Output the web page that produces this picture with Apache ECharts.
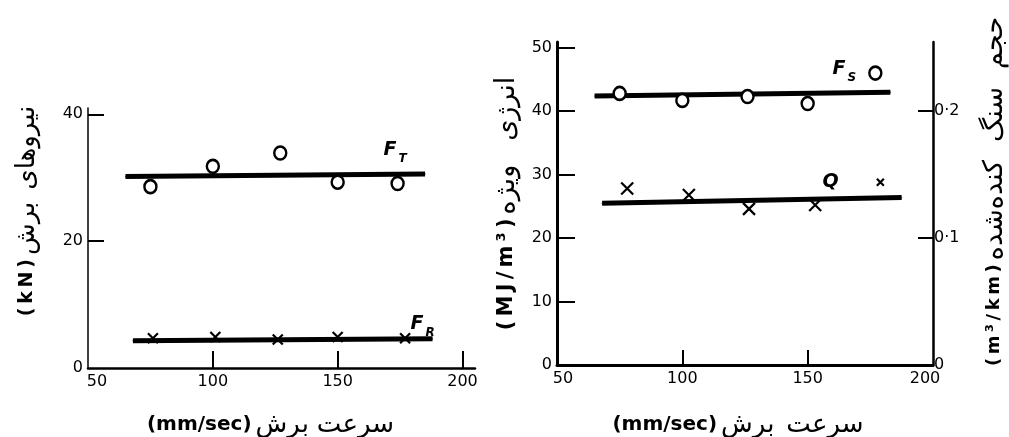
<!DOCTYPE html>
<html>
<head>
<meta charset="utf-8">
<script src="https://cdn.jsdelivr.net/npm/echarts@6/dist/echarts.min.js"></script>
<style>
  html, body { margin: 0; padding: 0; background: #fff; }
  #chart { width: 1009px; height: 437px; }
</style>
</head>
<body>
<div id="chart"></div>
<script>
// ---- Cutting forces vs cutting speed ----
const ftSpeed = [75, 100, 127, 150, 174];          // mm/sec
const ftForce = [28.6, 31.8, 33.9, 29.3, 29.1];    // kN
const frSpeed = [76, 101, 126, 150, 177];
const frForce = [4.7, 4.9, 4.5, 4.9, 4.7];
const ftFitSpeed = [65, 185];
const ftFitForce = [30.2, 30.6];
const frFitSpeed = [68, 188];
const frFitForce = [4.3, 4.6];

// ---- Specific energy and excavated volume vs cutting speed ----
const fsSpeed = [75, 100, 126, 150, 177];
const fsEnergy = [42.8, 41.7, 42.3, 41.2, 46.0];   // MJ/m3
const qSpeed = [78, 102.6, 126.6, 153, 179];
const qVolume = [0.139, 0.134, 0.123, 0.126, 0.144]; // m3/km
const fsFitSpeed = [65, 183];
const fsFitEnergy = [42.4, 43.0];
const qFitSpeed = [68, 187.5];
const qFitVolume = [0.1275, 0.132];

// ---- Tick labels ----
const speedLabels = [50, 100, 150, 200];
const forceLabels = [0, 20, 40];
const energyLabels = [0, 10, 20, 30, 40, 50];
const volumeLabels = [0, 0.1, 0.2];

const INK = '#000';
const NUM_FONT = 'DejaVu Sans';
const FA_FONT = 'DejaVu Sans';
const TS = '\u2009'; // thin space used to open up the unit strings

const pairs = (xs, ys) => xs.map((x, i) => [x, ys[i]]);
const spaced = s => s.split('').join(TS);

const crossPath = 'path://M0,0L10,10M10,0L0,10';

function numLabel(extra) {
  return Object.assign({
    color: INK, fontFamily: NUM_FONT, fontSize: 16
  }, extra);
}

// Axis title: unit in bold Latin, followed by the Persian words (listed in reading order)
function faTitle(unit, words, unitSize, faSize, lead, gap, tail) {
  const parts = ['{u|' + unit + '}'];
  const rev = words.slice().reverse();
  rev.forEach((w, i) => {
    const key = i === rev.length - 1 ? 'pe' : (i === 0 ? 'p0' : 'p');
    parts.push('{' + key + '|' + w + '}');
  });
  const single = rev.length === 1;
  return {
    text: parts.join(''),
    rich: {
      u: { fontFamily: NUM_FONT, fontSize: unitSize, fontWeight: 'bold', color: INK, padding: [0, 0, 0, lead] },
      p0: { fontFamily: FA_FONT, fontSize: faSize, color: INK, padding: [0, 0, 0, 4] },
      p: { fontFamily: FA_FONT, fontSize: faSize, color: INK, padding: [0, 0, 0, gap] },
      pe: { fontFamily: FA_FONT, fontSize: faSize, color: INK, padding: [0, tail, 0, single ? 4 : gap] }
    }
  };
}

function fitLine(name, xs, ys, xi, yi, labelText, offset) {
  const data = pairs(xs, ys).map((p, i) => {
    if (i !== xs.length - 1) return p;
    return {
      value: p,
      label: {
        show: true,
        position: 'inside',
        offset: offset,
        formatter: labelText,
        rich: {
          f: { fontFamily: NUM_FONT, fontSize: 19, fontStyle: 'italic', fontWeight: 'bold', color: INK },
          s: { fontFamily: NUM_FONT, fontSize: 12, fontStyle: 'italic', fontWeight: 'bold', color: INK, padding: [18, 0, 0, 2] }
        }
      }
    };
  });
  return {
    name: name,
    type: 'line',
    xAxisIndex: xi,
    yAxisIndex: yi,
    data: data,
    symbol: 'circle',
    symbolSize: 1,
    showSymbol: true,
    itemStyle: { color: INK },
    lineStyle: { color: INK, width: 5 },
    z: 2,
    silent: true
  };
}

function circles(name, xs, ys, xi, yi) {
  return {
    name: name, type: 'scatter', xAxisIndex: xi, yAxisIndex: yi,
    data: pairs(xs, ys),
    symbol: 'circle', symbolSize: [12, 13],
    itemStyle: { color: '#fff', borderColor: INK, borderWidth: 2.5, opacity: 1 },
    z: 4
  };
}

function crosses(name, xs, ys, xi, yi, sizes) {
  return {
    name: name, type: 'scatter', xAxisIndex: xi, yAxisIndex: yi,
    data: pairs(xs, ys).map((p, i) => ({ value: p, symbolSize: sizes ? sizes[i] : 10 })),
    symbol: crossPath,
    itemStyle: { color: 'none', borderColor: INK, borderWidth: 2.2, opacity: 1 },
    z: 4
  };
}

const speedTitleLeft = faTitle('(mm/sec)', ['سرعت', 'برش'], 20, 26, 0, 8, 22);
const speedTitleRight = faTitle('(mm/sec)', ['سرعت', 'برش'], 20, 26, 0, 12, 14);
const forceTitle = faTitle(spaced('(kN)'), ['نیروهای', 'برش'], 19, 26, 54, 12, 0);
const energyTitle = faTitle(spaced('(MJ/m³)'), ['انرژی', 'ویژه'], 21, 27, 0, 24, 0);
const volumeTitle = faTitle(spaced('(m³/km)'), ['حجم', 'سنگ', 'کنده‌شده'], 18, 27, 24, 18, 0);

function speedAxis(grid, max, ticks, lineWidth, tickLen, leftPad, rightPad, title, gap) {
  return {
    gridIndex: grid, type: 'value', min: 50, max: max,
    axisLine: { onZero: false, lineStyle: { color: INK, width: lineWidth } },
    axisTick: { inside: true, length: tickLen, customValues: ticks, lineStyle: { color: INK, width: 2 } },
    axisLabel: numLabel({
      customValues: speedLabels, margin: 6,
      formatter: v => (v === 50 ? '{a|50}' : v === 200 ? '{b|200}' : String(v)),
      rich: {
        a: { fontFamily: NUM_FONT, fontSize: 16, color: INK, padding: [0, 0, 0, leftPad] },
        b: { fontFamily: NUM_FONT, fontSize: 16, color: INK, padding: [0, rightPad, 0, 0] }
      }
    }),
    splitLine: { show: false },
    name: title.text, nameLocation: 'middle', nameGap: gap, nameMoveOverlap: false,
    nameTextStyle: { rich: title.rich }
  };
}

const option = {
  animation: false,
  backgroundColor: '#fff',
  grid: [
    { left: 88, top: 108, width: 387, height: 260, outerBoundsMode: 'none', containLabel: false },
    { left: 557, top: 42, width: 376, height: 323, outerBoundsMode: 'none', containLabel: false }
  ],
  xAxis: [
    speedAxis(0, 205, [100, 150, 200], 2.5, 17, 18, 0, speedTitleLeft, 44),
    speedAxis(1, 200, [100, 150], 3, 15, 12, 16, speedTitleRight, 47)
  ],
  yAxis: [
    {
      gridIndex: 0, type: 'value', min: 0, max: 41,
      axisLine: { onZero: false, lineStyle: { color: INK, width: 1.5 } },
      axisTick: { inside: true, length: 16, customValues: [20, 40], lineStyle: { color: INK, width: 2 } },
      axisLabel: numLabel({ customValues: forceLabels, margin: 5 }),
      splitLine: { show: false },
      name: forceTitle.text, nameLocation: 'middle', nameRotate: 90, nameGap: 48,
      nameMoveOverlap: false,
      nameTextStyle: { rich: forceTitle.rich }
    },
    {
      gridIndex: 1, type: 'value', min: 0, max: 50.9,
      axisLine: { onZero: false, lineStyle: { color: INK, width: 3 } },
      axisTick: { inside: true, length: 18, customValues: [10, 20, 30, 40, 50], lineStyle: { color: INK, width: 2 } },
      axisLabel: numLabel({ customValues: energyLabels, margin: 5 }),
      splitLine: { show: false },
      name: energyTitle.text, nameLocation: 'middle', nameRotate: 90, nameGap: 37,
      nameMoveOverlap: false,
      nameTextStyle: { rich: energyTitle.rich }
    },
    {
      gridIndex: 1, type: 'value', position: 'right', min: 0, max: 0.2545,
      axisLine: { onZero: false, lineStyle: { color: INK, width: 2.5 } },
      axisTick: { inside: true, length: 15, customValues: [0.1, 0.2], lineStyle: { color: INK, width: 2 } },
      axisLabel: numLabel({
        customValues: volumeLabels, margin: 1,
        formatter: v => (v === 0 ? '0' : v.toFixed(1).replace('.', '·'))
      }),
      splitLine: { show: false },
      name: volumeTitle.text, nameLocation: 'middle', nameRotate: 90, nameGap: 48,
      nameMoveOverlap: false,
      nameTextStyle: { rich: volumeTitle.rich }
    }
  ],
  series: [
    fitLine('FT fit', ftFitSpeed, ftFitForce, 0, 0, '{f|F}{s|T}', [-30, -24]),
    fitLine('FR fit', frFitSpeed, frFitForce, 0, 0, '{f|F}{s|R}', [-10, -15]),
    circles('FT', ftSpeed, ftForce, 0, 0),
    crosses('FR', frSpeed, frForce, 0, 0),
    fitLine('FS fit', fsFitSpeed, fsFitEnergy, 1, 1, '{f|F}{s|S}', [-46, -23]),
    fitLine('Q fit', qFitSpeed, qFitVolume, 1, 2, '{f|Q}', [-71, -15]),
    circles('FS', fsSpeed, fsEnergy, 1, 1),
    crosses('Q', qSpeed, qVolume, 1, 2, [12, 12, 12, 12, 7])
  ]
};

const chart = echarts.init(document.getElementById('chart'), null, { renderer: 'canvas' });
chart.setOption(option);
</script>
</body>
</html>
